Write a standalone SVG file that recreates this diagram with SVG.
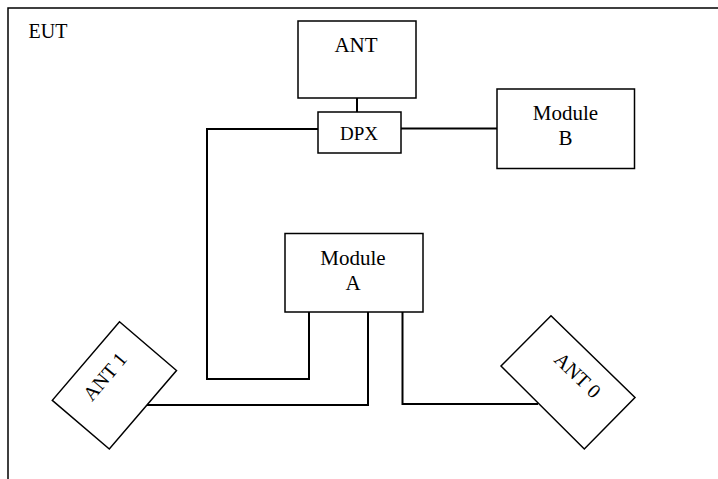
<svg xmlns="http://www.w3.org/2000/svg" width="718" height="479" viewBox="0 0 718 479">
<style>
.box{fill:#fff;stroke:#000;stroke-width:1.5}
.wire{fill:none;stroke:#000;stroke-width:2}
.frame{fill:none;stroke:#000;stroke-width:1.5}
text{font-family:"Liberation Serif","Times New Roman",serif;fill:#000;text-anchor:middle}
</style>
<rect width="718" height="479" fill="#fff"/>
<g id="frame">
<path class="frame" d="M8,479 V8 H718"/>
<text x="48" y="38" font-size="20">EUT</text>
</g>
<g id="connectors">
<path class="wire" d="M357,98 V112"/>
<path class="wire" d="M318,129 H207 V379 H309 V312"/>
<path class="wire" d="M401,128.5 H497"/>
<path class="wire" d="M368,312 V405 H146"/>
<path class="wire" d="M402.5,312 V404 H538"/>
</g>
<g id="ant">
<rect class="box" x="298" y="21" width="118" height="77"/>
<text x="356" y="52" font-size="21">ANT</text>
</g>
<g id="dpx">
<rect class="box" x="318" y="112" width="83" height="41"/>
<text x="359" y="140" font-size="19">DPX</text>
</g>
<g id="module-b">
<rect class="box" x="497" y="89" width="137.5" height="79.5"/>
<text x="565.5" y="120" font-size="21">Module</text>
<text x="565.5" y="145" font-size="21">B</text>
</g>
<g id="module-a">
<rect class="box" x="285" y="233.5" width="138" height="78.5"/>
<text x="353" y="264.5" font-size="21">Module</text>
<text x="353" y="290" font-size="21">A</text>
</g>
<g id="ant1">
<polygon class="box" points="119.5,321.7 176.5,370.5 109.3,449 52.3,400.3"/>
<text font-size="20" transform="translate(110,381) rotate(-50)">ANT 1</text>
</g>
<g id="ant0">
<polygon class="box" points="551,315.7 635,397.5 584.3,449 501,366"/>
<text font-size="20" transform="translate(573,380) rotate(44)">ANT 0</text>
</g>
</svg>
